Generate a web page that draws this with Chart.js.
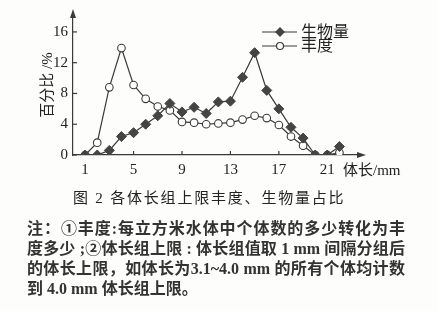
<!DOCTYPE html>
<html>
<head>
<meta charset="utf-8">
<script src="https://cdn.jsdelivr.net/npm/chart.js@4"></script>
<style>
  body { margin: 0; background: #fdfdfb; width: 437px; height: 311px; position: relative; overflow: hidden;
         font-family: "Liberation Serif", "Noto Sans CJK SC", serif; color: #222; }
  #wrap { position: absolute; left: 0; top: 0; width: 437px; height: 185px; }
  #xtitle { position: absolute; left: 343px; top: 160px; font-size: 15px; line-height: 20px; }
  #caption { position: absolute; left: 73px; top: 188px; font-size: 15px; line-height: 20px; letter-spacing: 1.8px; }
  #notes { position: absolute; left: 27px; top: 219px; width: 378px; font-size: 16px; line-height: 20px; font-weight: 700; color: #333; }
  #notes div { text-align: justify; text-align-last: justify; white-space: nowrap; }
  #notes div.last { text-align-last: left; }
</style>
</head>
<body>
<div id="wrap"><canvas id="chart" width="437" height="185"></canvas></div>
<div id="xtitle">体长/mm</div>
<div id="caption">图 2 各体长组上限丰度、生物量占比</div>
<div id="notes">
  <div>注：①丰度:每立方米水体中个体数的多少转化为丰</div>
  <div>度多少 ;②体长组上限 : 体长组值取 1 mm 间隔分组后</div>
  <div>的体长上限，如体长为3.1~4.0 mm 的所有个体均计数</div>
  <div class="last">到 4.0 mm 体长组上限。</div>
</div>
<script>
// body length group upper limit (mm)
var sizeGroups = [1, 2, 3, 4, 5, 6, 7, 8, 9, 10, 11, 12, 13, 14, 15, 16, 17, 18, 19, 20, 21, 22];
// percentage (%)
var biomass = [0, 0, 0.6, 2.4, 2.9, 4.0, 5.1, 6.7, 5.6, 6.2, 5.4, 6.9, 7.0, 10.1, 13.3, 8.4, 6.0, 3.6, 2.2, 0, 0, 1.1];
var abundance = [0, 1.6, 8.8, 13.9, 9.1, 7.3, 6.3, 5.8, 4.3, 4.2, 4.0, 4.1, 4.2, 4.6, 5.1, 4.8, 3.9, 2.4, 1.2, 0, 0, 0.3];
var xTicks = [1, 5, 9, 13, 17, 21];
var yTicks = [0, 4, 8, 12, 16];

var ink = '#3a3a3a';
var labelFont = '"Liberation Serif", "Noto Sans CJK SC", serif';

function toPoints(vals) {
  return sizeGroups.map(function (g, i) { return { x: g, y: vals[i] }; });
}

// inward tick marks, axis arrows and legend
const decor = {
  id: 'decor',
  afterDraw(chart) {
    var ctx = chart.ctx;
    var xs = chart.scales.x, ys = chart.scales.y;
    var a = chart.chartArea;
    ctx.save();
    ctx.strokeStyle = ink;
    ctx.fillStyle = ink;
    ctx.lineWidth = 1.2;
    xTicks.forEach(function (v) {
      var px = xs.getPixelForValue(v);
      ctx.beginPath(); ctx.moveTo(px, a.bottom); ctx.lineTo(px, a.bottom - 4); ctx.stroke();
    });
    yTicks.forEach(function (v) {
      var py = ys.getPixelForValue(v);
      ctx.beginPath(); ctx.moveTo(a.left, py); ctx.lineTo(a.left + 4, py); ctx.stroke();
    });
    // arrows
    ctx.beginPath();
    ctx.moveTo(a.left, a.top - 6); ctx.lineTo(a.left - 3, a.top + 3); ctx.lineTo(a.left + 3, a.top + 3); ctx.closePath();
    ctx.fill();
    ctx.beginPath();
    ctx.moveTo(a.right + 6, a.bottom); ctx.lineTo(a.right - 3, a.bottom - 3); ctx.lineTo(a.right - 3, a.bottom + 3); ctx.closePath();
    ctx.fill();
    // legend
    var rows = [32, 46];
    chart.data.datasets.forEach(function (ds, i) {
      var y = rows[i];
      ctx.strokeStyle = ink;
      ctx.lineWidth = 1.2;
      ctx.beginPath(); ctx.moveTo(262, y); ctx.lineTo(297, y); ctx.stroke();
      ctx.beginPath();
      if (ds.pointStyle === 'rectRot') {
        ctx.moveTo(280, y - 5); ctx.lineTo(285, y); ctx.lineTo(280, y + 5); ctx.lineTo(275, y); ctx.closePath();
        ctx.fillStyle = ds.pointBackgroundColor; ctx.fill();
      } else {
        ctx.arc(280, y, 3.5, 0, Math.PI * 2);
        ctx.fillStyle = ds.pointBackgroundColor; ctx.fill(); ctx.stroke();
      }
      ctx.fillStyle = '#222';
      ctx.font = '16px ' + labelFont;
      ctx.textBaseline = 'middle';
      ctx.fillText(ds.label, 301, y + 1);
    });
    ctx.restore();
  }
};

new Chart(document.getElementById('chart'), {
  type: 'line',
  data: {
    datasets: [{
      label: '生物量',
      data: toPoints(biomass),
      borderColor: ink,
      borderWidth: 1.2,
      pointStyle: 'rectRot',
      pointRadius: 5,
      pointBackgroundColor: '#444',
      pointBorderColor: '#444',
      pointBorderWidth: 1
    }, {
      label: '丰度',
      data: toPoints(abundance),
      borderColor: ink,
      borderWidth: 1.2,
      pointStyle: 'circle',
      pointRadius: 3.8,
      pointBackgroundColor: '#ffffff',
      pointBorderColor: ink,
      pointBorderWidth: 1.1
    }]
  },
  options: {
    responsive: false,
    animation: false,
    devicePixelRatio: 1,
    layout: { padding: { top: 15, right: 77, left: 0, bottom: 0 } },
    plugins: { legend: { display: false }, tooltip: { enabled: false } },
    scales: {
      x: {
        type: 'linear',
        min: 0,
        max: 23.7,
        grid: { display: false, drawTicks: false },
        border: { display: true, color: ink, width: 1.2 },
        ticks: { color: '#222', padding: 6, font: { family: labelFont, size: 15 } },
        afterBuildTicks: function (scale) { scale.ticks = xTicks.map(function (v) { return { value: v }; }); },
        afterFit: function (scale) { scale.height = 30; }
      },
      y: {
        min: 0,
        max: 18.2,
        grid: { display: false, drawTicks: false },
        border: { display: true, color: ink, width: 1.2 },
        ticks: { color: '#222', padding: 5, font: { family: labelFont, size: 15 } },
        afterBuildTicks: function (scale) { scale.ticks = yTicks.map(function (v) { return { value: v }; }); },
        afterFit: function (scale) { scale.width = 73; },
        title: { display: true, text: '百分比 /%', color: '#222', padding: { top: 39, bottom: 0 }, font: { family: labelFont, size: 15 } }
      }
    }
  },
  plugins: [decor]
});
</script>
</body>
</html>
